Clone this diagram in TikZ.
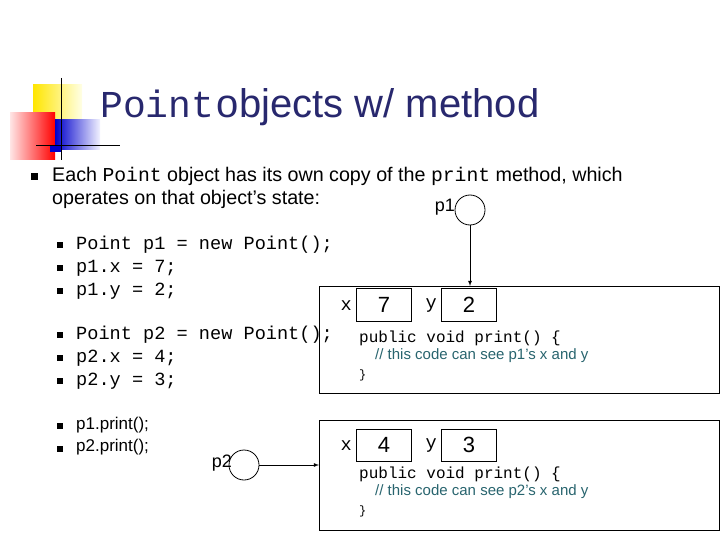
\documentclass[tikz,border=0pt]{standalone}
\usepackage{fontspec}
\setmainfont{Liberation Sans}
\setmonofont{Liberation Mono}
\definecolor{titleblue}{RGB}{40,40,110}
\definecolor{cmt}{RGB}{40,100,110}
\begin{document}
\begin{tikzpicture}[x=1pt,y=-1pt,
  bul/.style={fill=black,minimum size=6pt,inner sep=0pt},
  val/.style={draw,thick,minimum width=55pt,minimum height=33pt,font=\fontsize{22}{22}\selectfont},
  obj/.style={draw,thick},
  ref/.style={draw,thick,circle,minimum size=30pt,inner sep=0pt},
  txt/.style={anchor=west,inner sep=0pt,font=\fontsize{19.7}{20}\selectfont},
  code/.style={anchor=west,inner sep=0pt,font=\ttfamily\fontsize{18.6}{19}\selectfont}]
\useasboundingbox (0,0) rectangle (720,540);
% decoration
\shade[left color=yellow!80!orange,right color=yellow!10] (33,85) rectangle (82,135);
\shade[left color=red!10,right color=red] (10,113) rectangle (55,160);
\shade[left color=blue!80!black,right color=blue!5] (55,120) rectangle (100,150);
\fill[blue!80!black] (50,145) rectangle (62,152);
\draw[thick] (61,78) -- (61,160);
\draw[thick] (36,145) -- (120,145);
\node[anchor=west,inner sep=0pt,text=titleblue] (title) at (100,107) {{\ttfamily\fontsize{38}{38}\selectfont Point}\ {\fontsize{40}{40}\selectfont objects w/ method}};
% main bullet
\node[bul,minimum size=7pt] (b0) at (34,177) {};
\node[txt] (t0) at (52,176) {Each {\ttfamily Point} object has its own copy of the {\ttfamily print} method, which};
\node[txt] (t0b) at (52,199) {operates on that object's state:};
\foreach \y/\t [count=\i] in {245/{Point p1 = new Point();},268/{p1.x = 7;},291/{p1.y = 2;},335/{Point p2 = new Point();},358/{p2.x = 4;},381/{p2.y = 3;}}{
  \node[bul] (sb\i) at (60,\y) {};
  \node[code] (sc\i) at (76,\y) {\t};
}
\node[bul] (sb7) at (60,426) {};
\node[txt,font=\fontsize{17}{17}\selectfont] (sc7) at (76,425) {p1.print();};
\node[bul] (sb8) at (60,449) {};
\node[txt,font=\fontsize{17}{17}\selectfont] (sc8) at (76,447) {p2.print();};
% objects
\node[obj,minimum width=400pt,minimum height=107pt,anchor=north west] (o1) at (319,286) {};
\node[obj,minimum width=400pt,minimum height=110pt,anchor=north west] (o2) at (319,420) {};
\node[val] (x1) at (384,305) {7};
\node[val] (y1) at (469,305) {2};
\node[val,minimum height=32pt] (x2) at (384,445) {4};
\node[val,minimum height=32pt] (y2) at (469,445) {3};
\node[code,anchor=east] (lx1) at (352,306) {x};
\node[code,anchor=east] (ly1) at (437,306) {y};
\node[code,anchor=east] (lx2) at (352,446) {x};
\node[code,anchor=east] (ly2) at (437,446) {y};
\node[code,font=\ttfamily\fontsize{16}{16}\selectfont] (m1) at (359,338) {public void print() \{};
\node[txt,text=cmt,font=\fontsize{15}{15}\selectfont] (c1) at (375,356) {// this code can see p1's x and y};
\node[code,font=\ttfamily\fontsize{12}{12}\selectfont] (e1) at (359,375) {\}};
\node[code,font=\ttfamily\fontsize{16}{16}\selectfont] (m2) at (359,474) {public void print() \{};
\node[txt,text=cmt,font=\fontsize{15}{15}\selectfont] (c2) at (375,492) {// this code can see p2's x and y};
\node[code,font=\ttfamily\fontsize{12}{12}\selectfont] (e2) at (359,511) {\}};
% references
\node[ref] (p1) at (470,210) {};
\node[txt,anchor=east,font=\fontsize{18}{18}\selectfont] (p1l) at (455,207) {p1};
\node[ref] (p2) at (244,465) {};
\node[txt,anchor=east,font=\fontsize{18}{18}\selectfont] (p2l) at (232,463) {p2};
\draw[thick,-latex] (p1) -- (p1 |- o1.north);
\draw[thick,-latex] (p2) -- (p2 -| o2.west);
\end{tikzpicture}
\end{document}
